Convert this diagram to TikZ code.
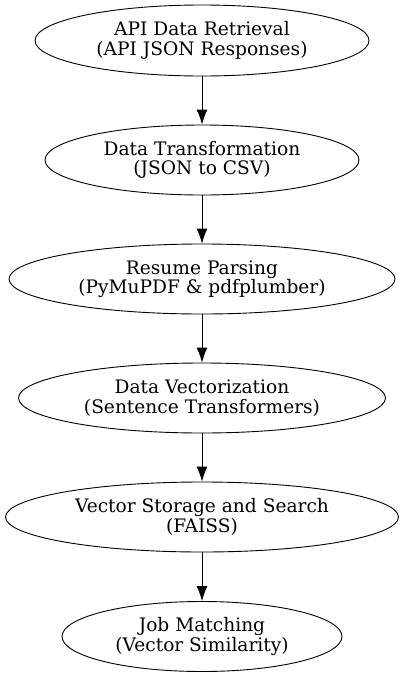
\documentclass[tikz,border=0pt]{standalone}
\usepackage{fontspec}
\setmainfont{DejaVu Serif}
\usetikzlibrary{shapes.geometric,arrows.meta}
\begin{document}
\begin{tikzpicture}[x=1pt,y=-1pt,
  stage/.style={draw,line width=0.9pt,ellipse,inner sep=0pt,align=center,
    font=\fontsize{18.6}{19.5}\selectfont},
  flow/.style={line width=0.9pt,-{Latex[length=15pt,width=11pt]}}]
\useasboundingbox (0,0) rectangle (403,681);
\node[stage,minimum width=334,minimum height=71] (a) at (202,40.5) {API Data Retrieval\\(API JSON Responses)};
\node[stage,minimum width=314,minimum height=70] (b) at (202,160) {Data Transformation\\(JSON to CSV)};
\node[stage,minimum width=386,minimum height=70] (c) at (202,279) {Resume Parsing\\(PyMuPDF \& pdfplumber)};
\node[stage,minimum width=367,minimum height=70] (d) at (202,398) {Data Vectorization\\(Sentence Transformers)};
\node[stage,minimum width=393,minimum height=70] (e) at (202,517) {Vector Storage and Search\\(FAISS)};
\node[stage,minimum width=280,minimum height=70] (f) at (202,636.5) {Job Matching\\(Vector Similarity)};
\draw[flow] (a) -- (b);
\draw[flow] (b) -- (c);
\draw[flow] (c) -- (d);
\draw[flow] (d) -- (e);
\draw[flow] (e) -- (f);
\end{tikzpicture}
\end{document}
